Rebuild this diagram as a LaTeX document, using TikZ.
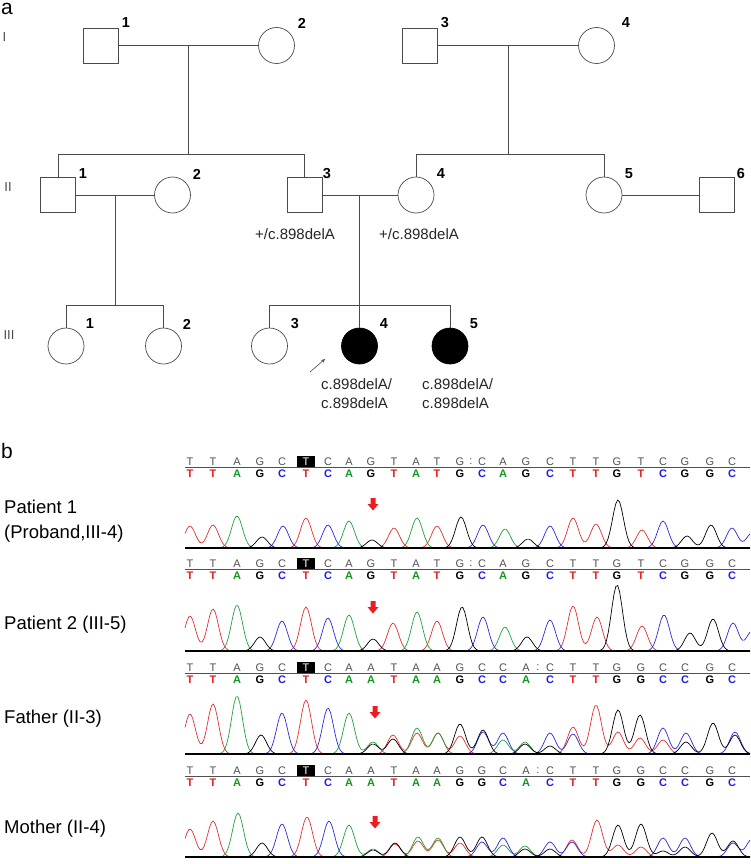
\documentclass[tikz,border=0pt]{standalone}
\usepackage{fontspec}
\setmainfont{Liberation Sans}
\usetikzlibrary{arrows.meta}
\definecolor{pedline}{HTML}{4A4A4A}
\definecolor{tred}{HTML}{E23030}
\definecolor{tgreen}{HTML}{22A03C}
\definecolor{tblue}{HTML}{2A2AE0}
\definecolor{baseT}{HTML}{E01E1E}
\definecolor{baseA}{HTML}{12961E}
\definecolor{baseC}{HTML}{1E1EE6}
\definecolor{baseG}{HTML}{000000}
\definecolor{refgray}{HTML}{505050}
\definecolor{arrred}{HTML}{EE1C1C}

\newcommand\chromtrace[3]{%
  \gdef\ctexpr{0}%
  \foreach \px/\ph in {#3}{%
    \xdef\ctexpr{\unexpanded\expandafter{\ctexpr}+\ph*exp(-0.5*(((\noexpand\x-\px)/5.5)^2))}%
  }%
  \draw[#1, line width=0.7pt] plot[domain=185:750, samples=300] (\x,{#2-(\ctexpr)});
}
\def\basex{{190,213,237,260,282,306,328,349,371,394,416,437,460,482,503,526,550,573,596,617,641,663,685,710,732}}
% #1 prefix, #2 line y, #3 sequence, #4 colon x
\newcommand\seqrow[4]{%
  \draw[refgray, line width=0.6pt] (185,#2) -- (750,#2);
  \foreach \b [count=\i] in {#3}{%
    \pgfmathsetmacro\bx{\basex[\i-1]}%
    \ifnum\i=6
      \node[boxT] (#1r\i) at (\bx,#2-5.5) {\b};
    \else
      \node[refl] (#1r\i) at (\bx,#2-5.5) {\b};
    \fi
    \node[colb, text=base\b] (#1c\i) at (\bx,#2+7) {\b};
  }
  \node[refl] (#1colon) at (#4,#2-5.5) {:};
}
\newcommand\redarrow[3]{%
  \fill[arrred] (#2-2.5,#3) -- (#2+2.5,#3) -- (#2+2.5,#3+6) -- (#2+5.5,#3+6) -- (#2,#3+12.5) -- (#2-5.5,#3+6) -- (#2-2.5,#3+6) -- cycle;
  \coordinate (#1) at (#2,#3);
}

\begin{document}
\begin{tikzpicture}[x=1pt,y=-1pt,
  pline/.style={draw=pedline, line width=0.7pt},
  male/.style={draw=pedline, line width=0.7pt, rectangle, minimum size=35pt, inner sep=0pt},
  female/.style={draw=pedline, line width=0.7pt, circle, minimum size=36pt, inner sep=0pt},
  affected/.style={fill=black, draw=black},
  num/.style={font=\bfseries\fontsize{14.5}{16}\selectfont, inner sep=0pt},
  gen/.style={font=\fontsize{13}{15}\selectfont, inner sep=0pt, text=pedline},
  geno/.style={font=\fontsize{15}{18}\selectfont, inner sep=0pt, anchor=base west, text=black!85},
  panel/.style={font=\fontsize{21}{24}\selectfont, inner sep=0pt, anchor=base west},
  plabel/.style={font=\fontsize{18.5}{22}\selectfont, inner sep=0pt, anchor=base west},
  refl/.style={font=\fontsize{11}{11}\selectfont, text=refgray, inner sep=0pt},
  boxT/.style={font=\fontsize{11}{11}\selectfont, text=white, fill=black, inner sep=0pt, minimum width=18pt, minimum height=11pt},
  colb/.style={font=\bfseries\fontsize{11}{11}\selectfont, inner sep=0pt}
]
\useasboundingbox (0,0) rectangle (750,864);

% ---------------- panel a: pedigree ----------------
\node[panel] (pa) at (1,15) {a};
\node[gen] (gI) at (4.5,37) {I};
\node[gen] (gII) at (8,187) {II};
\node[gen] (gIII) at (9,335) {III};

\node[male] (I1) at (100.5,45.5) {};
\node[female] (I2) at (276.5,45.5) {};
\node[male] (I3) at (420,45.5) {};
\node[female] (I4) at (596.5,45.5) {};
\node[male] (II1) at (58,195) {};
\node[female] (II2) at (172.5,195) {};
\node[male] (II3) at (304.5,195) {};
\node[female] (II4) at (416,195) {};
\node[female] (II5) at (604,195) {};
\node[male] (II6) at (716.5,195) {};
\node[female] (III1) at (66,346) {};
\node[female] (III2) at (163.5,346) {};
\node[female] (III3) at (269.5,346) {};
\node[female,affected] (III4) at (359.5,346) {};
\node[female,affected] (III5) at (450,346) {};

\node[num] (nI1) at (126,23) {1};
\node[num] (nI2) at (302,23) {2};
\node[num] (nI3) at (445,23) {3};
\node[num] (nI4) at (626,23) {4};
\node[num] (nII1) at (83,174) {1};
\node[num] (nII2) at (197,174) {2};
\node[num] (nII3) at (327,174) {3};
\node[num] (nII4) at (441,174) {4};
\node[num] (nII5) at (629,174) {5};
\node[num] (nII6) at (741,174) {6};
\node[num] (nIII1) at (90,324) {1};
\node[num] (nIII2) at (187,324) {2};
\node[num] (nIII3) at (295,324) {3};
\node[num] (nIII4) at (384,324) {4};
\node[num] (nIII5) at (474,324) {5};

% generation I -> II
\draw[pline] (I1) -- (I2);
\coordinate (mI12) at (188,45.5);
\coordinate (dI12) at (188,154);
\coordinate (sIIl) at (58,154);
\coordinate (sIIr) at (304.5,154);
\draw[pline] (mI12) -- (dI12);
\draw[pline] (sIIl) -- (sIIr);
\draw[pline] (sIIl) -- (II1.north);
\draw[pline] (sIIr) -- (II3.north);

\draw[pline] (I3) -- (I4);
\coordinate (mI34) at (508,45.5);
\coordinate (dI34) at (508,154);
\coordinate (sIIl2) at (416,154);
\coordinate (sIIr2) at (604,154);
\draw[pline] (mI34) -- (dI34);
\draw[pline] (sIIl2) -- (sIIr2);
\draw[pline] (sIIl2) -- (II4.north);
\draw[pline] (sIIr2) -- (II5.north);

% generation II -> III
\draw[pline] (II1) -- (II2);
\coordinate (mII12) at (115,195);
\coordinate (dII12) at (115,305);
\coordinate (sIIIl) at (66,305);
\coordinate (sIIIr) at (163.5,305);
\draw[pline] (mII12) -- (dII12);
\draw[pline] (sIIIl) -- (sIIIr);
\draw[pline] (sIIIl) -- (III1.north);
\draw[pline] (sIIIr) -- (III2.north);

\draw[pline] (II3) -- (II4);
\coordinate (mII34) at (359.5,195);
\coordinate (sIIIl2) at (269.5,305);
\coordinate (sIIIr2) at (450,305);
\draw[pline] (mII34) -- (III4.north);
\draw[pline] (sIIIl2) -- (sIIIr2);
\draw[pline] (sIIIl2) -- (III3.north);
\draw[pline] (sIIIr2) -- (III5.north);

\draw[pline] (II5) -- (II6);

% annotations
\node[geno] (aII3) at (255,239) {+/c.898delA};
\node[geno] (aII4) at (379,239) {+/c.898delA};
\node[geno] (aIII4a) at (321,389.5) {c.898delA/};
\node[geno] (aIII4b) at (321,408.5) {c.898delA};
\node[geno] (aIII5a) at (422,389.5) {c.898delA/};
\node[geno] (aIII5b) at (422,408.5) {c.898delA};
\coordinate (prA) at (310,372);
\coordinate (prB) at (325,359);
\draw[pedline, line width=0.6pt, -{Stealth[length=4pt,width=3.5pt]}] (prA) -- (prB);

% ---------------- panel b: chromatograms ----------------
\node[panel] (pb) at (1,458) {b};
\node[plabel] (l1a) at (4,513) {Patient 1};
\node[plabel] (l1b) at (4,538) {(Proband,III-4)};
\node[plabel] (l2) at (4,629) {Patient 2 (III-5)};
\node[plabel] (l3) at (4,723) {Father (II-3)};
\node[plabel] (l4) at (4,833) {Mother (II-4)};

% row 1
\seqrow{s1}{467}{T,T,A,G,C,T,C,A,G,T,A,T,G,C,A,G,C,T,T,G,T,C,G,G,C}{471}
\chromtrace{tred}{548}{190/22,213/23,306/30,394/20,437/22,573/30,596/24,642/18}
\chromtrace{tgreen}{548}{237/32,349/27,417/30,505/19}
\chromtrace{tblue}{548}{283/22,328/23,483/23,550/22,663/27,732/20,752/15}
\chromtrace{black}{548}{262/11,372/8,461/31,528/9,618/48,687/12,711/23}
\draw[black, line width=1.5pt] (185,548) -- (750,548);
\redarrow{ar1}{373}{498}

% row 2
\seqrow{s2}{569}{T,T,A,G,C,T,C,A,G,T,A,T,G,C,A,G,C,T,T,G,T,C,G,G,C}{471}
\chromtrace{tred}{651}{190/35,213/42,306/44,393/28,437/30,573/45,597/34,642/25}
\chromtrace{tgreen}{651}{237/46,349/36,417/39,505/24}
\chromtrace{tblue}{651}{282/30,328/33,483/34,550/31,664/36,733/28,752/20}
\chromtrace{black}{651}{260/14,373/12,462/44,527/14,617/66,690/18,713/32}
\draw[black, line width=1.5pt] (185,651) -- (750,651);
\redarrow{ar2}{373}{601}

% row 3
\seqrow{s3}{673}{T,T,A,G,C,T,C,A,A,T,A,A,G,C,C,A,C,T,T,G,G,C,C,G,C}{538}
\chromtrace{tred}{754}{190/40,213/50,306/54,393/19,417/21,438/21,460/18,573/27,596/49,618/22,640/16,663/14}
\chromtrace{tgreen}{754}{237/58,349/41,373/12,417/26,438/21,503/14,525/12}
\chromtrace{tblue}{754}{282/41,328/46,483/22,503/21,550/21,573/20,663/26,686/21,735/22}
\chromtrace{black}{754}{261/19,373/10,393/15,460/30,483/24,525/10,550/8,618/44,640/39,686/12,713/31,735/19}
\draw[black, line width=1.5pt] (185,754) -- (750,754);
\redarrow{ar3}{375}{706}

% row 4
\seqrow{s4}{776}{T,T,A,G,C,T,C,A,A,T,A,A,G,G,C,A,C,T,T,G,G,C,C,G,C}{538}
\chromtrace{tred}{857}{190/28,213/36,307/40,395/13,418/16,438/17,460/14,572/17,597/37,618/12,641/10}
\chromtrace{tgreen}{857}{238/44,349/32,373/8,418/20,438/19,503/12,525/11}
\chromtrace{tblue}{857}{282/33,329/36,482/15,503/19,550/15,572/15,663/19,685/19,733/14,752/18}
\chromtrace{black}{857}{262/14,373/7,395/14,460/20,482/20,525/8,550/8,618/32,641/33,663/6,685/10,712/24,733/16}
\draw[black, line width=1.5pt] (185,857) -- (750,857);
\redarrow{ar4}{375}{816}
\end{tikzpicture}
\end{document}
